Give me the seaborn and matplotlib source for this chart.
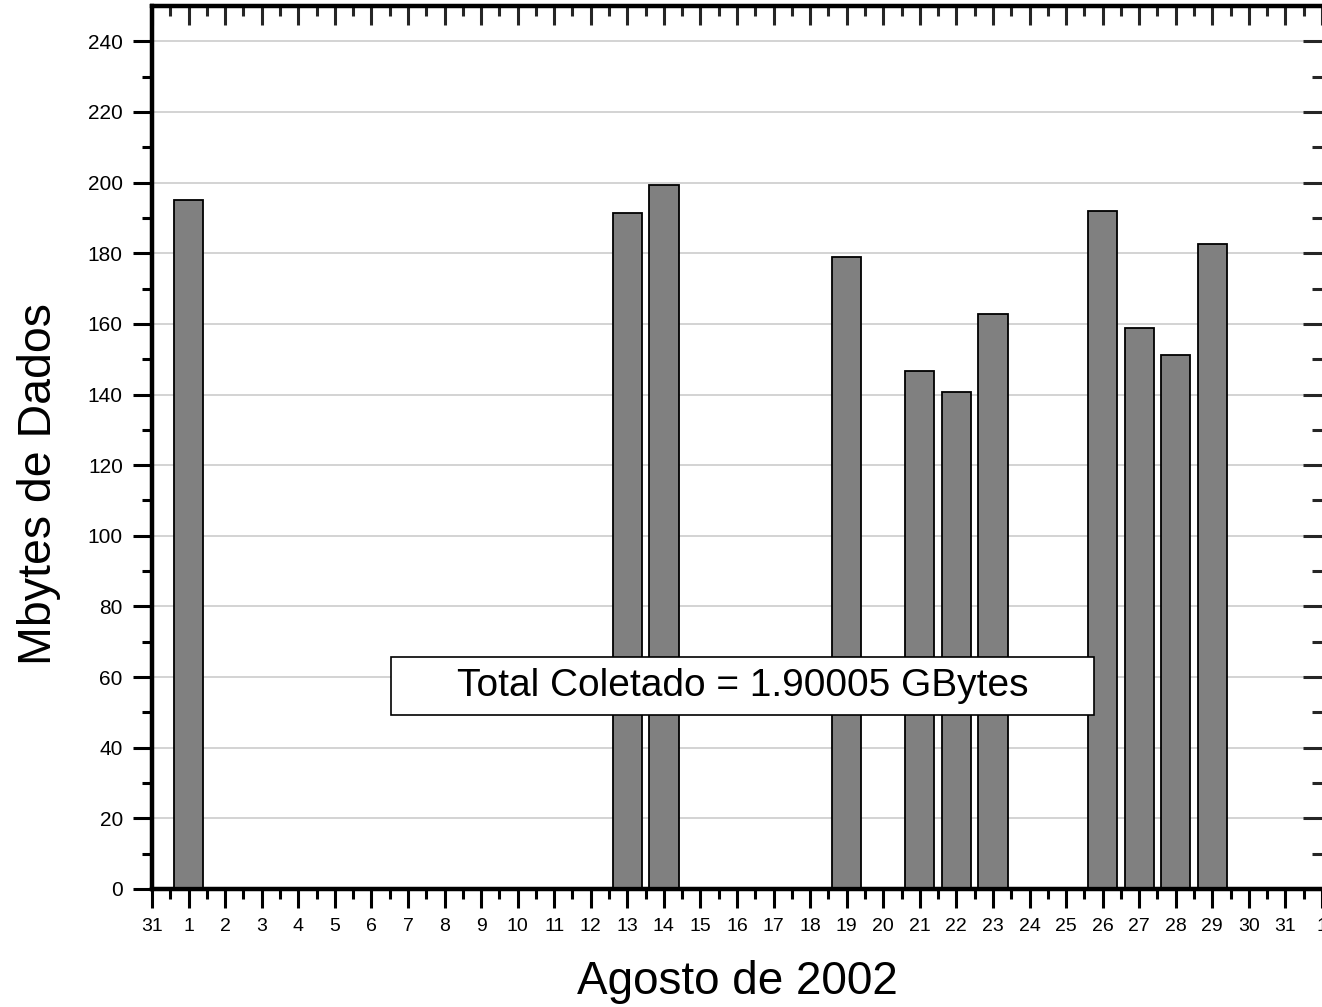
import matplotlib
matplotlib.use("Agg")
import matplotlib.pyplot as plt
from matplotlib.patches import Rectangle
import seaborn as sns
import numpy as np
import pandas as pd

# Data (August 2002, Mbytes collected per day)
days = [1, 13, 14, 19, 21, 22, 23, 26, 27, 28, 29]
mbytes = [195.2, 191.3, 199.2, 178.8, 146.8, 140.8, 162.9, 192.1, 158.7, 151.3, 182.5]
x_tick_labels = ["31"] + [str(d) for d in range(1, 32)] + ["1"]
y_ticks = list(range(0, 241, 20))
annotation = "Total Coletado = 1.90005 GBytes"

sns.set_theme(style="white")
plt.rcParams['font.family'] = ['Liberation Sans', 'DejaVu Sans']
plt.rcParams['text.color'] = 'black'
plt.rcParams['axes.labelcolor'] = 'black'

fig = plt.figure(figsize=(13.22, 10.07), dpi=100)
ax = fig.add_axes([152/1322, 1-889/1007, (1322-152)/1322, (889-6)/1007])

df = pd.DataFrame({"day": days, "mb": mbytes})
sns.barplot(data=df, x="day", y="mb", native_scale=True, color="#808080",
            saturation=1, edgecolor="black", linewidth=1.3, width=0.8, ax=ax, zorder=3)

ax.set_xlim(0, 32)
ax.set_ylim(0, 250)

# grid
for yv in y_ticks[1:]:
    ax.axhline(yv, color="#d0d0d0", lw=1.3, zorder=1)

ax.set_xticks(range(0, 33))
ax.set_xticklabels(x_tick_labels, fontsize=14)
ax.set_xticks(np.arange(0.5, 32, 1), minor=True)
ax.set_yticks(y_ticks)
ax.set_yticklabels([str(v) for v in y_ticks], fontsize=15)
ax.set_yticks(range(10, 250, 20), minor=True)

ax.tick_params(axis='both', which='major', direction='out', length=14, width=2.2,
               color='black', labelcolor='black')
ax.tick_params(axis='both', which='minor', direction='out', length=7, width=2.2, color='black')
ax.tick_params(axis='x', which='major', pad=7)
ax.tick_params(axis='y', which='major', pad=7)
ax.tick_params(axis='both', which='both', bottom=True, left=True, top=False, right=False)

for s in ax.spines.values():
    s.set_linewidth(3)
    s.set_color('black')
ax.spines['right'].set_visible(False)

# top axis with inward ticks
axt = ax.twiny()
axt.set_xlim(ax.get_xlim())
axt.set_xticks(range(0, 33))
axt.set_xticks(np.arange(0.5, 32, 1), minor=True)
axt.tick_params(axis='x', which='major', direction='in', length=14, width=2.2, labeltop=False, top=True)
axt.tick_params(axis='x', which='minor', direction='in', length=7, width=2.2, top=True)

# right axis with inward ticks
axr = ax.twinx()
axr.set_ylim(ax.get_ylim())
axr.set_yticks(y_ticks)
axr.set_yticks(range(10, 250, 20), minor=True)
axr.tick_params(axis='y', which='major', direction='in', length=14, width=2.2, labelright=False, right=True)
axr.tick_params(axis='y', which='minor', direction='in', length=7, width=2.2, right=True)
for a in (axt, axr):
    for s in a.spines.values():
        s.set_linewidth(3)
        s.set_color('black')
    a.spines['right'].set_visible(False)
    a.grid(False)

ax.set_xlabel("Agosto de 2002", fontsize=33, labelpad=18)
ax.set_ylabel("Mbytes de Dados", fontsize=33.5)
ax.yaxis.set_label_coords((61 - 152) / 1170, (889 - 484) / 883)

x0 = (391 - 152) / 1170
x1 = (1094 - 152) / 1170
y0 = (889 - 715) / 883
y1 = (889 - 657) / 883
ax.add_patch(Rectangle((x0, y0), x1 - x0, y1 - y0, transform=ax.transAxes,
                       facecolor='white', edgecolor='black', linewidth=1.2, zorder=5))
ax.text((x0 + x1) / 2, (y0 + y1) / 2, annotation, fontsize=28, ha='center', va='center',
        transform=ax.transAxes, zorder=6)

fig.savefig("out.png", dpi=100)
